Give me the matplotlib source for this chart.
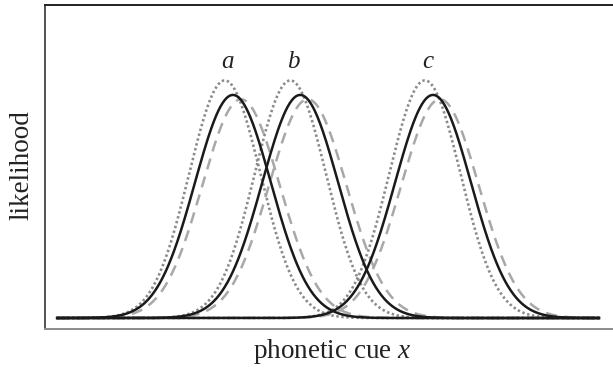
import numpy as np
import matplotlib
matplotlib.use("Agg")
import matplotlib.pyplot as plt

plt.rcParams.update({
    "font.family": "serif",
    "font.serif": ["Liberation Serif", "DejaVu Serif"],
    "mathtext.fontset": "custom",
    "mathtext.it": "Liberation Serif:italic",
    "mathtext.rm": "Liberation Serif",
})

# ---------- data ----------
categories = ["a", "b", "c"]
# category means on the phonetic cue axis (arbitrary units)
mu_solid = [3.24, 4.40, 6.69]
mu_dotted = [3.10, 4.23, 6.55]
mu_dashed = [3.38, 4.53, 6.81]
sd_solid = 0.655
sd_dotted = 0.615
sd_dashed = 0.668

x_lo, x_hi = 0.21, 9.55


def gauss(x, mu, sd):
    return np.exp(-0.5 * ((x - mu) / sd) ** 2) / (sd * np.sqrt(2 * np.pi))


fig = plt.figure(figsize=(6.13, 3.68), dpi=100)
ax = fig.add_axes([45 / 613, 39 / 368, 580 / 613, 324.5 / 368])

x = np.linspace(x_lo, x_hi, 800)

for mu in mu_dotted:
    ax.plot(x, gauss(x, mu, sd_dotted), color="#8a8a8a", lw=1.9,
            linestyle=(0, (0.9, 1.0)), zorder=2)
for mu in mu_dashed:
    ax.plot(x, gauss(x, mu, sd_dashed), color="#a8a8a8", lw=1.8,
            linestyle=(0, (4.5, 3.0)), zorder=3)
for mu in mu_solid:
    ax.plot(x, gauss(x, mu, sd_solid), color="#1a1a1a", lw=1.8, zorder=4)

# category labels above the dotted peaks
for cat, mu in zip(categories, mu_dotted):
    ax.text(mu + 0.05, gauss(mu, mu, sd_dotted) + 0.02, cat,
            fontsize=18, style="italic", ha="center", va="bottom",
            color="#222222")

ax.set_xlim(0, 10)
ax.set_ylim(-0.030, 0.856)
ax.set_xticks([])
ax.set_yticks([])

ax.spines["right"].set_visible(False)
ax.spines["top"].set_color("#222222")
ax.spines["top"].set_linewidth(1.4)
ax.spines["left"].set_color("#222222")
ax.spines["left"].set_linewidth(1.1)
ax.spines["bottom"].set_color("#8c8c8c")
ax.spines["bottom"].set_linewidth(1.4)

fig.text(22 / 613, 1 - 165 / 368, "likelihood", rotation=90, fontsize=19.5,
         ha="center", va="center", color="#222222")
fig.text(332 / 613, 1 - 352 / 368, "phonetic cue $x$", fontsize=19.5,
         ha="center", va="center", color="#222222")

fig.savefig("out.png", dpi=100)
